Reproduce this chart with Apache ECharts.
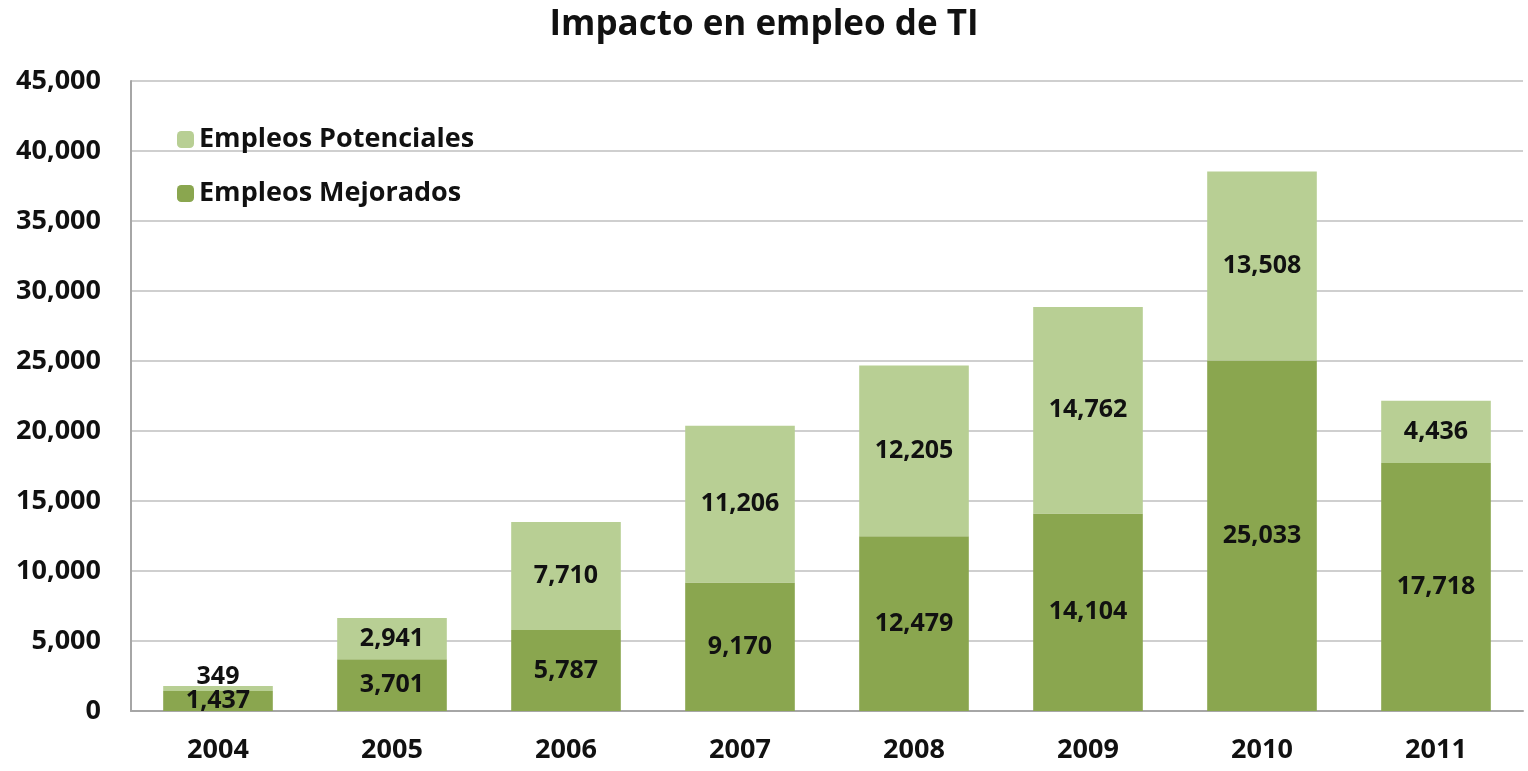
<!DOCTYPE html>
<html>
<head>
<meta charset="utf-8">
<script src="https://cdn.jsdelivr.net/npm/echarts@6/dist/echarts.min.js"></script>
<style>
  html, body { margin: 0; padding: 0; background: #fff; }
  #chart { width: 1528px; height: 771px; }
</style>
</head>
<body>
<div id="chart"></div>
<script>
const years = ['2004', '2005', '2006', '2007', '2008', '2009', '2010', '2011'];
const mejorados = [1437, 3701, 5787, 9170, 12479, 14104, 25033, 17718];
const potenciales = [349, 2941, 7710, 11206, 12205, 14762, 13508, 4436];
const yTicks = [0, 5000, 10000, 15000, 20000, 25000, 30000, 35000, 40000, 45000];

const fmt = v => Number(v).toLocaleString('en-US');
const font = '"Open Sans", Lato, sans-serif';

const chart = echarts.init(document.getElementById('chart'));
chart.setOption({
    animation: false,
    title: {
        text: 'Impacto en empleo de TI',
        left: 'center',
        top: 3,
        textStyle: { fontFamily: font, fontSize: 35, fontWeight: 'bold', color: '#111' }
    },
    legend: {
        orient: 'vertical',
        left: 172,
        top: 121,
        itemWidth: 17,
        itemHeight: 17,
        itemGap: 27,
        data: ['Empleos Potenciales', 'Empleos Mejorados'],
        textStyle: { fontFamily: font, fontSize: 27, fontWeight: 'bold', color: '#111' }
    },
    grid: { left: 131, right: 5, top: 81, bottom: 60 },
    xAxis: {
        type: 'category',
        data: years,
        axisLine: { lineStyle: { color: '#a6a6a6', width: 2 } },
        axisTick: { show: false },
        axisLabel: { fontFamily: font, fontSize: 27, fontWeight: 'bold', color: '#111', margin: 26 }
    },
    yAxis: {
        type: 'value',
        min: yTicks[0],
        max: yTicks[yTicks.length - 1],
        interval: 5000,
        axisLine: { show: true, lineStyle: { color: '#a6a6a6', width: 2 } },
        axisTick: { show: false },
        splitLine: { lineStyle: { color: '#cfcfcf', width: 2 } },
        axisLabel: {
            fontFamily: font, fontSize: 27, fontWeight: 'bold', color: '#111', margin: 30,
            formatter: v => fmt(v)
        }
    },
    series: [
        {
            name: 'Empleos Mejorados',
            type: 'bar',
            stack: 'total',
            barWidth: '63%',
            itemStyle: { color: '#8aa64f' },
            label: {
                show: true, position: 'inside',
                fontFamily: font, fontSize: 25, fontWeight: 'bold', color: '#111',
                formatter: p => fmt(p.value)
            },
            data: mejorados
        },
        {
            name: 'Empleos Potenciales',
            type: 'bar',
            stack: 'total',
            itemStyle: { color: '#b8cf94' },
            label: {
                show: true, position: 'inside',
                fontFamily: font, fontSize: 25, fontWeight: 'bold', color: '#111',
                formatter: p => fmt(p.value)
            },
            data: potenciales.map((v, i) => i === 0
                ? { value: v, label: { position: 'top', distance: -3 } }
                : v)
        }
    ]
});
</script>
</body>
</html>
